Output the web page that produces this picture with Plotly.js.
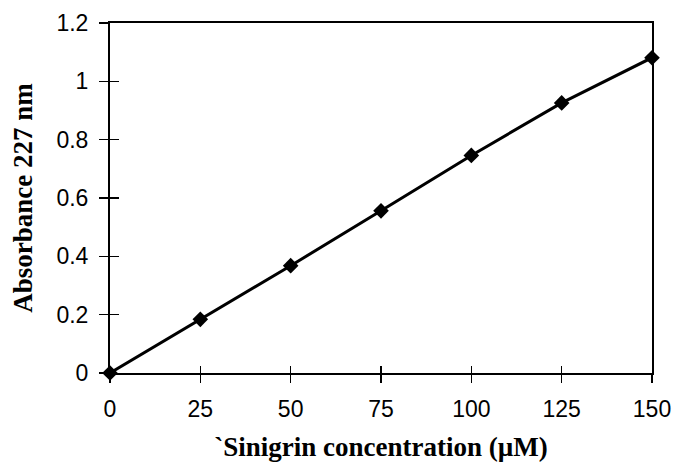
<!DOCTYPE html>
<html>
<head>
<meta charset="utf-8">
<script src="https://cdn.plot.ly/plotly-3.0.1.min.js"></script>
<style>
  html, body { margin: 0; padding: 0; background: #fff; }
  #chart { width: 677px; height: 476px; }
</style>
</head>
<body>
<div id="chart"></div>
<script>
// Sinigrin standard curve: absorbance at 227 nm vs concentration
const concentration = [0, 25, 50, 75, 100, 125, 150];
const absorbance = [0, 0.184, 0.368, 0.556, 0.746, 0.926, 1.081];
const xTickVals = [0, 25, 50, 75, 100, 125, 150];
const yTickVals = [0, 0.2, 0.4, 0.6, 0.8, 1, 1.2];
const yTickText = ['0', '0.2', '0.4', '0.6', '0.8', '1', '1.2'];

const tickFont = { family: 'Liberation Sans, Arial, sans-serif', size: 23, color: '#000' };
const titleFont = { family: 'Liberation Serif, Times New Roman, serif', size: 27, color: '#000' };

const trace = {
  x: concentration,
  y: absorbance,
  mode: 'lines+markers',
  line: { color: '#000', width: 3 },
  marker: { symbol: 'diamond', size: 12, color: '#000' },
  cliponaxis: false,
  showlegend: false
};

const layout = {
  width: 677,
  height: 476,
  margin: { l: 110, r: 25, t: 23, b: 103 },
  paper_bgcolor: '#fff',
  plot_bgcolor: '#fff',
  xaxis: {
    range: [0, 150],
    tickvals: xTickVals,
    ticks: 'outside', ticklen: 8, tickwidth: 1.5, tickcolor: '#000',
    ticklabelstandoff: 6,
    showgrid: false, zeroline: false,
    showline: true, mirror: true, linecolor: '#000', linewidth: 2,
    tickfont: tickFont,
    title: { text: '<b>`Sinigrin concentration (\u00b5M)</b>', font: titleFont, standoff: 17 }
  },
  yaxis: {
    range: [0, 1.2],
    tickvals: yTickVals,
    ticktext: yTickText,
    ticks: 'outside', ticklen: 9, tickwidth: 1.5, tickcolor: '#000',
    ticklabelstandoff: 6,
    showgrid: false, zeroline: false,
    showline: true, mirror: true, linecolor: '#000', linewidth: 2,
    tickfont: tickFont,
    title: { text: '<b>Absorbance 227 nm</b>', font: titleFont, standoff: 16 }
  },
  // inner tick halves so the tick marks cross the axis lines
  xaxis2: {
    overlaying: 'x', range: [0, 150], tickvals: xTickVals,
    ticks: 'inside', ticklen: 7, tickwidth: 1.5, tickcolor: '#000',
    showticklabels: false, showgrid: false, zeroline: false, showline: false
  },
  yaxis2: {
    overlaying: 'y', range: [0, 1.2], tickvals: yTickVals,
    ticks: 'inside', ticklen: 9, tickwidth: 1.5, tickcolor: '#000',
    showticklabels: false, showgrid: false, zeroline: false, showline: false
  }
};

const helper = {
  x: [0], y: [0], xaxis: 'x2', yaxis: 'y2',
  mode: 'markers', marker: { opacity: 0 }, hoverinfo: 'skip', showlegend: false
};

Plotly.newPlot('chart', [helper, trace], layout, { staticPlot: true });
</script>
</body>
</html>
